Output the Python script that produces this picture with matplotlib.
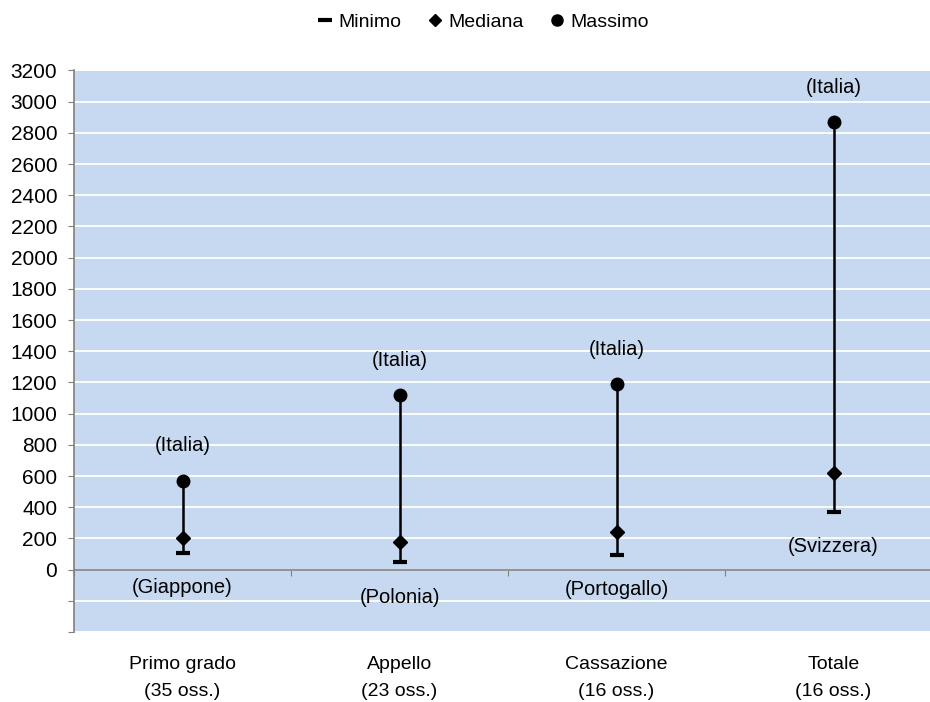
import matplotlib
matplotlib.use("Agg")
import matplotlib.pyplot as plt
from matplotlib.lines import Line2D
import matplotlib.transforms as mtransforms

plt.rcParams['font.family'] = ['Liberation Sans', 'DejaVu Sans']

categories = ["Primo grado\n(35 oss.)", "Appello\n(23 oss.)", "Cassazione\n(16 oss.)", "Totale\n(16 oss.)"]
minimo = [106, 47, 96, 372]
mediana = [200, 175, 242, 621]
massimo = [570, 1117, 1191, 2868]
label_max = ["(Italia)", "(Italia)", "(Italia)", "(Italia)"]
label_min = ["(Giappone)", "(Polonia)", "(Portogallo)", "(Svizzera)"]
ytick_vals = list(range(-400, 3201, 200))

W, H = 930, 702
fig = plt.figure(figsize=(W / 100, H / 100), dpi=100)
ax = fig.add_axes([74 / W, 1 - 632 / H, 868 / W, 561.5 / H])
ax.set_facecolor('#C6D9F1')

x = list(range(len(categories)))
ax.set_xlim(-0.5, len(categories) - 0.5)
ax.set_ylim(-400, 3200)

# grid
ax.set_yticks(ytick_vals)
ax.set_yticklabels([str(v) if v >= 0 else '' for v in ytick_vals], fontsize=15)
ax.yaxis.grid(True, color='white', linewidth=1.3)
ax.set_axisbelow(True)
ax.tick_params(axis='y', direction='out', length=4, color='#808080', pad=8)

for s in ['top', 'right']:
    ax.spines[s].set_visible(False)
ax.spines['left'].set_color('#808080')
ax.spines['left'].set_linewidth(1.2)
ax.spines['bottom'].set_position(('data', 0))
ax.spines['bottom'].set_color('#808080')
ax.spines['bottom'].set_linewidth(1.2)
ax.spines['bottom'].set_zorder(1.5)

bounds = [i + 0.5 for i in range(-1, len(categories))]
ax.set_xticks(bounds)
ax.set_xticklabels([''] * len(bounds))
ax.tick_params(axis='x', direction='out', length=4, color='#808080')

trans = mtransforms.blended_transform_factory(ax.transData, ax.transAxes)
for xi, lab in zip(x, categories):
    ax.text(xi, -0.043, lab, transform=trans, ha='center', va='top', fontsize=14, linespacing=1.75)

# data
ax.vlines(x, minimo, massimo, color='black', linewidth=1.8, zorder=3)
ax.plot(x, minimo, linestyle='none', marker='_', markersize=10, markeredgewidth=3, color='black', zorder=4)
ax.plot(x, mediana, linestyle='none', marker='D', markersize=7, color='black', zorder=4)
ax.plot(x, massimo, linestyle='none', marker='o', markersize=9, color='black', zorder=4)

for xi, v, t in zip(x, massimo, label_max):
    ax.annotate(t, (xi, v), xytext=(0, 25), textcoords='offset points', ha='center', va='center', fontsize=14.5)
for xi, v, t in zip(x, minimo, label_min):
    ax.annotate(t, (xi, v), xytext=(0, -25), textcoords='offset points', ha='center', va='center', fontsize=14.5)

handles = [
    Line2D([], [], linestyle='none', marker='_', markersize=10, markeredgewidth=3, color='black'),
    Line2D([], [], linestyle='none', marker='D', markersize=6.5, color='black'),
    Line2D([], [], linestyle='none', marker='o', markersize=8, color='black'),
]
fig.legend(handles, ['Minimo', 'Mediana', 'Massimo'], loc='center', bbox_to_anchor=(483 / W, 1 - 22 / H),
           ncol=3, frameon=False, fontsize=14, handlelength=0.8, handletextpad=0.3, columnspacing=1.3)

fig.savefig('out.png', dpi=100)
